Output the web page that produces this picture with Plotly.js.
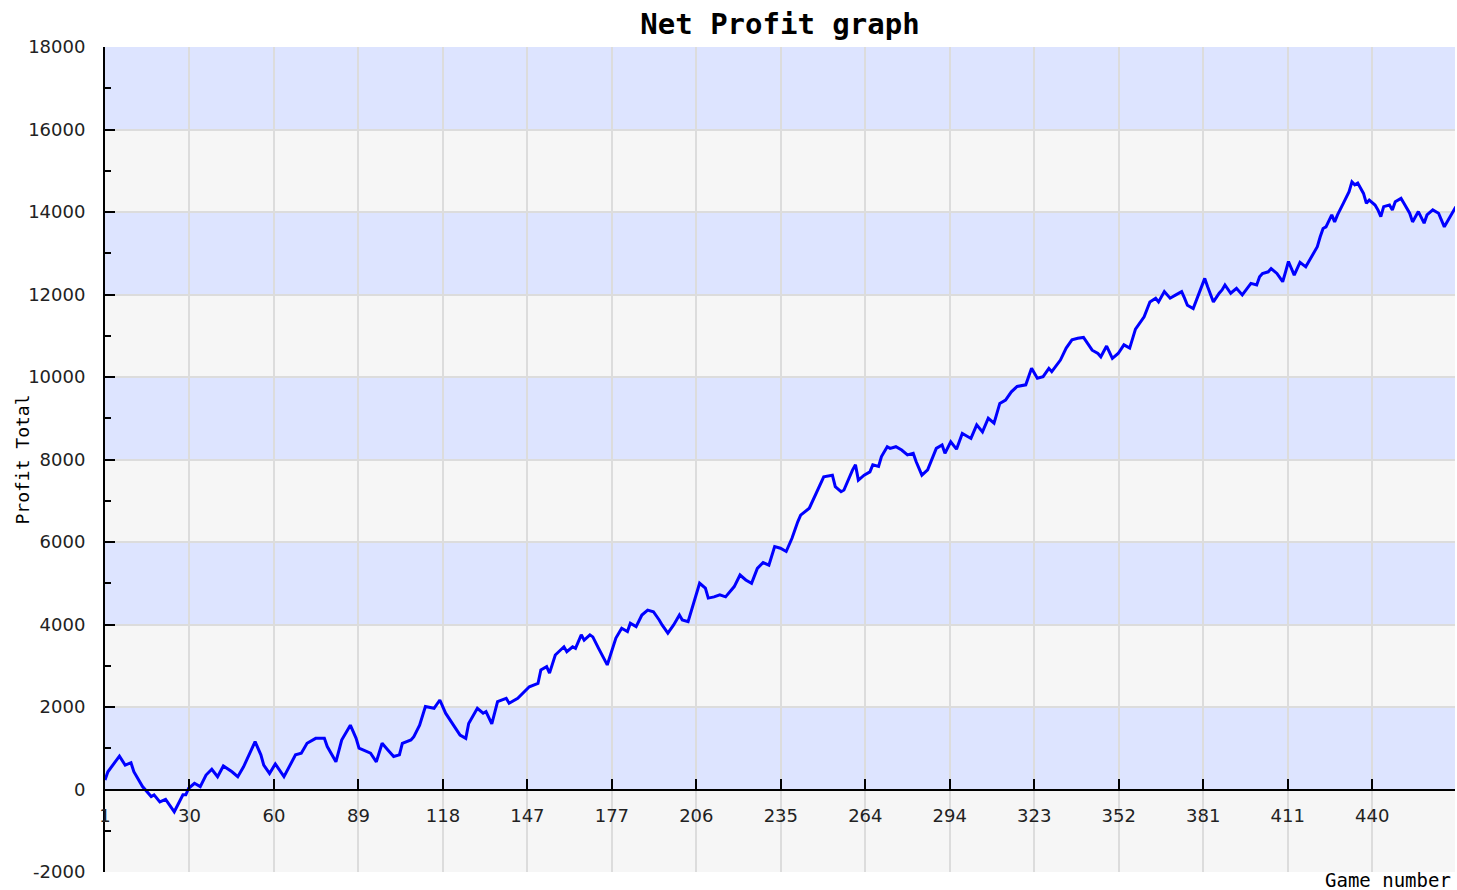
<!DOCTYPE html>
<html>
<head>
<meta charset="utf-8">
<script src="https://cdn.plot.ly/plotly-3.0.1.min.js"></script>
<style>html,body{margin:0;padding:0;background:#fff;}#chart{width:1457px;height:890px;}</style>
</head>
<body>
<div id="chart"></div>
<script>
// Game numbers (x) and cumulative net profit (y)
var games = [1,2,6,8,10,11,14,16,17,18,20,22,23,25,28,29,30,32,34,36,38,40,42,44,45,47,49,53,55,56,58,60,62,63,67,69,71,74,77,78,81,83,86,88,89,92,93,95,97,99,101,103,104,107,108,110,112,115,117,119,122,124,126,127,130,132,133,135,137,140,141,144,148,151,152,154,155,157,160,161,163,164,166,167,169,170,172,175,178,180,182,183,185,187,189,191,193,194,196,198,200,201,203,205,207,209,210,212,214,216,219,221,223,225,227,229,231,233,235,237,239,241,242,245,247,249,250,253,254,256,257,260,261,262,264,266,267,269,270,272,273,275,277,279,281,282,284,286,287,289,291,292,294,296,298,301,303,305,307,309,311,313,315,317,320,322,324,326,328,329,332,334,336,338,340,343,345,346,348,350,352,354,356,358,361,363,365,366,368,370,372,374,375,376,378,380,382,383,385,387,388,389,391,393,395,398,400,401,402,404,405,407,409,410,411,413,415,417,419,421,422,423,424,426,427,428,430,432,433,434,435,437,438,439,441,442,443,444,446,447,448,450,451,453,454,456,458,459,461,463,465,467,469];
var profit = [230,430,810,590,650,430,70,-90,-170,-130,-300,-240,-340,-540,-130,-130,30,150,70,350,490,310,570,490,430,310,550,1160,840,590,390,620,430,310,840,880,1120,1240,1240,1040,670,1200,1560,1240,1000,920,880,670,1120,960,800,840,1120,1200,1280,1560,2010,1970,2170,1850,1520,1320,1240,1600,1970,1850,1890,1590,2130,2210,2090,2210,2490,2570,2900,2980,2820,3260,3460,3340,3460,3420,3750,3620,3750,3700,3420,3020,3670,3910,3830,4030,3950,4230,4350,4310,4110,3990,3790,3990,4230,4110,4070,4510,5000,4880,4640,4670,4720,4670,4920,5200,5080,5000,5360,5500,5440,5890,5850,5770,6090,6490,6650,6820,7140,7460,7580,7620,7340,7220,7260,7750,7870,7500,7620,7700,7870,7830,8070,8310,8270,8310,8230,8110,8150,7950,7620,7750,7910,8270,8350,8150,8430,8250,8630,8510,8840,8670,9000,8880,9360,9440,9640,9770,9810,10210,9970,10010,10210,10130,10410,10700,10900,10940,10960,10650,10570,10490,10750,10450,10570,10780,10700,11160,11460,11820,11910,11820,12070,11910,11990,12070,11910,11740,11660,12030,12390,12190,11820,12030,12110,12230,12030,12150,11990,12270,12230,12430,12510,12550,12630,12510,12310,12550,12800,12470,12780,12670,12920,13160,13400,13600,13640,13930,13760,13930,14210,14490,14730,14660,14700,14450,14210,14290,14170,14050,13890,14130,14170,14050,14250,14330,14210,13970,13760,14010,13730,13930,14050,13970,13640,13890,14130];

// Axis tick labels
var xTickLabels = ["1","30","60","89","118","147","177","206","235","264","294","323","352","381","411","440"];
var yTickLabels = ["-2000","0","2000","4000","6000","8000","10000","12000","14000","16000","18000"];
var yTickVals = [-2000,0,2000,4000,6000,8000,10000,12000,14000,16000,18000];
var xTickStep = 439 / 15;
var xTickVals = xTickLabels.map(function(_, i){ return 1 + i * xTickStep; });

// Alternating horizontal bands (lower, upper)
var bandLows = [0,4000,8000,12000,16000];
var bandHighs = [2000,6000,10000,14000,18000];

var shapes = bandLows.map(function(lo, i){
  return {type:'rect', xref:'paper', yref:'y', x0:0, x1:1, y0:lo, y1:bandHighs[i],
          fillcolor:'#dde4ff', line:{width:0}, layer:'below'};
});

var trace = {
  x: games, y: profit, type:'scatter', mode:'lines',
  line:{color:'#0000ff', width:3, shape:'linear'},
  hoverinfo:'x+y'
};

var layout = {
  width:1457, height:890,
  margin:{l:105, r:2, t:47, b:18},
  paper_bgcolor:'#ffffff',
  plot_bgcolor:'#f6f6f6',
  showlegend:false,
  title:{text:'<b>Net Profit graph</b>', font:{family:'DejaVu Sans Mono', size:29, color:'#000'},
         x:0.5, xref:'paper', xanchor:'center', y:1-24/890, yref:'container', yanchor:'middle'},
  xaxis:{
    range:[1, 468.7], anchor:'free', position:0.1,
    tickvals:xTickVals, ticktext:xTickLabels,
    ticks:'inside', ticklen:10, tickwidth:2, tickcolor:'#000',
    showline:true, linecolor:'#000', linewidth:2,
    showgrid:true, gridcolor:'#dcdcdc', gridwidth:2,
    zeroline:false,
    tickfont:{family:'DejaVu Sans', size:18, color:'#222'},
    ticklabelstandoff:10
  },
  yaxis:{
    range:[-2000, 18000],
    tickvals:yTickVals, ticktext:yTickLabels,
    ticks:'inside', ticklen:10, tickwidth:2, tickcolor:'#000',
    minor:{dtick:1000, ticks:'inside', ticklen:6, tickwidth:2, tickcolor:'#000', showgrid:false},
    showline:true, linecolor:'#000', linewidth:2,
    showgrid:true, gridcolor:'#dcdcdc', gridwidth:2,
    zeroline:false,
    tickfont:{family:'DejaVu Sans', size:18, color:'#222'},
    ticklabelstandoff:14
  },
  shapes:shapes,
  annotations:[
    {text:'Profit Total', xref:'paper', yref:'paper', x:0, y:0.5, xanchor:'center', yanchor:'middle',
     xshift:-83, textangle:-90, showarrow:false, font:{family:'DejaVu Sans Mono', size:18, color:'#000'}},
    {text:'Game number', xref:'paper', yref:'paper', x:1, y:0, xanchor:'right', yanchor:'middle',
     xshift:-3, yshift:-8, borderpad:0, showarrow:false, font:{family:'DejaVu Sans Mono', size:19, color:'#000'}}
  ]
};

Plotly.newPlot('chart', [trace], layout, {displayModeBar:false, staticPlot:true});
</script>
</body>
</html>
